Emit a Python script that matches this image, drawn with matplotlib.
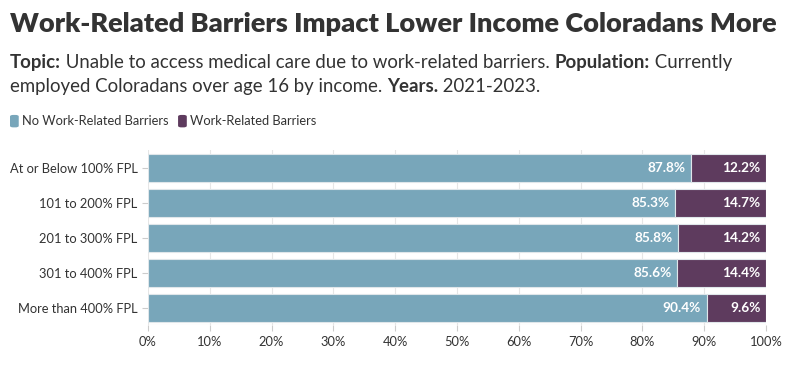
import matplotlib.pyplot as plt
from matplotlib.patches import FancyBboxPatch

plt.rcParams['font.family'] = ['Lato', 'DejaVu Sans']

categories = ["At or Below 100% FPL", "101 to 200% FPL", "201 to 300% FPL",
              "301 to 400% FPL", "More than 400% FPL"]
no_barriers = [87.8, 85.3, 85.8, 85.6, 90.4]
barriers = [12.2, 14.7, 14.2, 14.4, 9.6]
x_ticks = [0, 10, 20, 30, 40, 50, 60, 70, 80, 90, 100]

teal = "#78a6ba"
purple = "#5e3b5e"
txt = "#333333"

fig = plt.figure(figsize=(7.94, 3.66), dpi=100)
ax = fig.add_axes([0.1864, 0.1120, 0.7783, 0.4781])

y = list(range(len(categories)))
ax.barh(y, no_barriers, height=0.8, color=teal, edgecolor="#dfe6ea", linewidth=0.8, zorder=3)
ax.barh(y, barriers, left=no_barriers, height=0.8, color=purple, edgecolor="#dfe6ea", linewidth=0.8, zorder=3)

for i in y:
    ax.annotate(f"{no_barriers[i]:.1f}%", (no_barriers[i], i), xytext=(-4, 0),
                textcoords="offset points", ha="right", va="center",
                color="white", fontsize=9.8, fontweight="bold", zorder=4)
    ax.annotate(f"{barriers[i]:.1f}%", (100, i), xytext=(-4, 0),
                textcoords="offset points", ha="right", va="center",
                color="white", fontsize=9.8, fontweight="bold", zorder=4)

ax.set_xlim(0, 100)
ax.set_ylim(len(categories) - 0.5, -0.5)
ax.set_yticks(y)
ax.set_yticklabels(categories)
ax.set_xticks(x_ticks)
ax.set_xticklabels([f"{t}%" for t in x_ticks])
ax.tick_params(axis="both", colors="#cccccc", labelcolor=txt, labelsize=9.3, length=4, width=0.8)
ax.tick_params(axis="x", pad=4)
for s in ax.spines.values():
    s.set_visible(False)
ax.grid(axis="x", color="#e6e6e6", linewidth=0.8, zorder=0)
ax.axhline(len(categories) - 0.5, color="#e6e6e6", linewidth=0.8, zorder=1)

fig.text(0.0126, 0.935, "Work-Related Barriers Impact Lower Income Coloradans More",
         fontsize=19.5, fontweight="heavy", color=txt, va="center")

r = fig.canvas.get_renderer()

# subtitle with bold keywords, built piece by piece
def line(parts, ypos):
    xpos = 0.0126
    for s, bold in parts:
        t = fig.text(xpos, ypos, s, fontsize=13.4, color=txt, va="center",
                     fontweight="bold" if bold else "normal")
        bb = t.get_window_extent(renderer=r)
        xpos += bb.width / fig.bbox.width

line([("Topic:", True), (" Unable to access medical care due to work-related barriers. ", False),
      ("Population:", True), (" Currently", False)], 0.828)
line([("employed Coloradans over age 16 by income. ", False), ("Years.", True),
      (" 2021-2023.", False)], 0.763)

# legend
lx = 0.0126
for label, c in [("No Work-Related Barriers", teal), ("Work-Related Barriers", purple)]:
    box = FancyBboxPatch((lx, 0.652), 0.011, 0.034, boxstyle="round,pad=0,rounding_size=0.004",
                         transform=fig.transFigure, color=c, linewidth=0)
    fig.patches.append(box)
    t = fig.text(lx + 0.015, 0.669, label, fontsize=9.3, color=txt, va="center")
    lx += 0.015 + t.get_window_extent(renderer=r).width / fig.bbox.width + 0.012

fig.savefig("out.png", dpi=100)
